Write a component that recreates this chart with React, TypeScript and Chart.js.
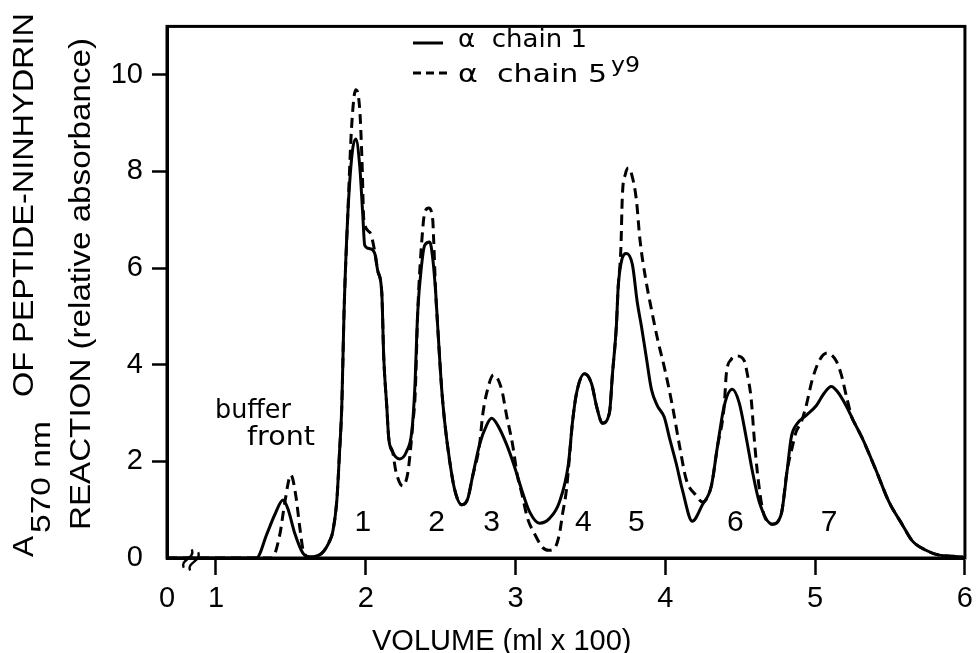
import React, { useEffect, useRef } from 'react';
import { Chart, registerables } from 'chart.js';

Chart.register(...registerables);

// ---- axis definitions ----
const X_ORIGIN = 0.673; // broken-axis origin, labelled "0"
const X_MAX = 6;
const Y_MAX = 11;
const xTickValues = [X_ORIGIN, 1, 2, 3, 4, 5, 6];
const xTickLabels = ['0', '1', '2', '3', '4', '5', '6'];
const yTickValues = [0, 2, 4, 6, 8, 10];

// ---- series: [volume (ml x 100), relative absorbance] ----
const chain1Points: [number, number][] = [
  [0.673, 0], [1.27, 0], [1.34, 0.5], [1.393, 0.9], [1.447, 1.2], [1.48, 1.02], [1.527, 0.5], [1.58, 0.1],
  [1.627, 0.02], [1.707, 0.1], [1.76, 0.36], [1.78, 0.55], [1.807, 1.2], [1.825, 2.2], [1.84, 3.15], [1.855, 5.1],
  [1.88, 7.1], [1.91, 8.4], [1.933, 8.67], [1.96, 8.1], [1.98, 7.1], [1.993, 6.47], [2.027, 6.4], [2.06, 6.3],
  [2.08, 5.94], [2.107, 5.48], [2.12, 4.15], [2.14, 3.15], [2.153, 2.49], [2.18, 2.19], [2.227, 2.05], [2.273, 2.21],
  [2.307, 2.61], [2.327, 3.49], [2.347, 5.1], [2.373, 6.07], [2.393, 6.47], [2.427, 6.54], [2.447, 6.2], [2.467, 5.48],
  [2.48, 4.8], [2.507, 3.49], [2.527, 2.81], [2.56, 2.01], [2.593, 1.42], [2.64, 1.1], [2.68, 1.22], [2.713, 1.69],
  [2.76, 2.35], [2.807, 2.75], [2.84, 2.89], [2.88, 2.75], [2.94, 2.35], [2.993, 1.89], [3.04, 1.42], [3.093, 0.96],
  [3.16, 0.72], [3.227, 0.82], [3.293, 1.16], [3.353, 1.95], [3.38, 2.81], [3.407, 3.41], [3.46, 3.81], [3.507, 3.61],
  [3.54, 3.15], [3.58, 2.79], [3.627, 3.01], [3.647, 3.81], [3.673, 4.8], [3.685, 5.6], [3.707, 6.14], [3.74, 6.3],
  [3.78, 6.07], [3.813, 5.28], [3.84, 4.8], [3.873, 4.15], [3.907, 3.49], [3.947, 3.15], [3.993, 2.91], [4.027, 2.49],
  [4.073, 1.95], [4.113, 1.42], [4.18, 0.76], [4.247, 1.1], [4.307, 1.49], [4.347, 2.29], [4.393, 3.15], [4.447, 3.49],
  [4.493, 3.21], [4.54, 2.49], [4.58, 1.81], [4.627, 1.16], [4.713, 0.7], [4.773, 0.9], [4.813, 1.81], [4.84, 2.49],
  [4.873, 2.75], [4.94, 2.95], [5.007, 3.15], [5.06, 3.41], [5.107, 3.55], [5.147, 3.45], [5.207, 3.15], [5.26, 2.81],
  [5.313, 2.49], [5.407, 1.81], [5.493, 1.16], [5.58, 0.7], [5.647, 0.36], [5.74, 0.16], [5.827, 0.06], [5.98, 0.02],
  [6.0, 0],
];

const chain5y9Points: [number, number][] = [
  [0.673, 0], [1.373, 0], [1.427, 0.5], [1.46, 1.16], [1.5, 1.72], [1.533, 1.29], [1.56, 0.62], [1.587, 0.1],
  [1.627, 0.02], [1.707, 0.1], [1.76, 0.36], [1.78, 0.55], [1.807, 1.2], [1.825, 2.2], [1.84, 3.15], [1.855, 5.1],
  [1.88, 7.1], [1.905, 8.9], [1.933, 9.69], [1.96, 9.27], [1.975, 8.2], [1.987, 7.0], [2.027, 6.74], [2.06, 6.34],
  [2.08, 5.94], [2.107, 5.48], [2.12, 4.15], [2.14, 3.15], [2.153, 2.49], [2.18, 2.19], [2.2, 1.81], [2.247, 1.49],
  [2.28, 1.75], [2.3, 2.29], [2.313, 2.75], [2.33, 3.4], [2.347, 5.1], [2.38, 6.8], [2.393, 7.14], [2.42, 7.24],
  [2.447, 7.0], [2.453, 6.6], [2.467, 5.48], [2.48, 4.8], [2.507, 3.49], [2.527, 2.81], [2.56, 2.01], [2.593, 1.42],
  [2.64, 1.1], [2.68, 1.22], [2.713, 1.69], [2.76, 2.35], [2.78, 2.95], [2.807, 3.41], [2.853, 3.79], [2.907, 3.49],
  [2.94, 2.95], [2.98, 2.35], [3.013, 1.69], [3.04, 1.36], [3.08, 0.82], [3.127, 0.5], [3.18, 0.22], [3.22, 0.16],
  [3.26, 0.2], [3.293, 0.5], [3.313, 0.9], [3.34, 1.42], [3.36, 2.1], [3.38, 2.81], [3.407, 3.41], [3.46, 3.81],
  [3.507, 3.61], [3.54, 3.15], [3.58, 2.79], [3.627, 3.01], [3.647, 3.81], [3.673, 4.8], [3.685, 5.6], [3.703, 6.4],
  [3.713, 7.5], [3.733, 7.94], [3.753, 8.07], [3.775, 7.94], [3.807, 7.4], [3.83, 6.6], [3.87, 5.75], [3.91, 5.1],
  [3.95, 4.5], [3.993, 3.95], [4.047, 3.15], [4.093, 2.35], [4.14, 1.62], [4.207, 1.29], [4.247, 1.16], [4.307, 1.49],
  [4.347, 2.29], [4.393, 3.15], [4.407, 3.81], [4.44, 4.11], [4.48, 4.18], [4.527, 4.08], [4.547, 3.81], [4.573, 3.29],
  [4.593, 2.49], [4.613, 1.81], [4.64, 1.16], [4.66, 0.88], [4.713, 0.7], [4.773, 0.9], [4.813, 1.81], [4.847, 2.29],
  [4.873, 2.61], [4.907, 2.81], [4.94, 3.15], [4.98, 3.68], [5.027, 4.08], [5.08, 4.24], [5.14, 4.08], [5.173, 3.81],
  [5.213, 3.29], [5.247, 2.89], [5.26, 2.81], [5.313, 2.49], [5.407, 1.81], [5.493, 1.16], [5.58, 0.7], [5.647, 0.36],
  [5.74, 0.16], [5.827, 0.06], [5.98, 0.02], [6.0, 0],
];

// ---- peak numbering annotations ----
const peakLabels = ['1', '2', '3', '4', '5', '6', '7'];
const peakLabelVolume = [1.98, 2.473, 2.84, 3.453, 3.807, 4.467, 5.093];
const PEAK_LABEL_Y = 0.56;

const TICK_FONT = "'Liberation Sans', Arial, sans-serif";
const TEXT_FONT = "'DejaVu Sans', 'Liberation Sans', sans-serif";

function fitText(ctx: CanvasRenderingContext2D, text: string, x: number, y: number, width: number, font: string) {
  ctx.save();
  ctx.font = font;
  const w = ctx.measureText(text).width;
  ctx.translate(x, y);
  ctx.scale(width / w, 1);
  ctx.textAlign = 'left';
  ctx.textBaseline = 'alphabetic';
  ctx.fillText(text, 0, 0);
  ctx.restore();
}

const decorPlugin = {
  id: 'decor',
  afterDraw(chart: any) {
    const { ctx, chartArea: a } = chart;
    const xs = chart.scales.x;
    const ys = chart.scales.y;
    ctx.save();
    ctx.strokeStyle = '#000';
    ctx.fillStyle = '#000';

    // frame box
    ctx.lineWidth = 3;
    ctx.strokeRect(a.left, a.top, a.right - a.left, a.bottom - a.top);

    // axis break marks
    ctx.save();
    ctx.translate(a.left + 24, a.bottom + 2);
    ctx.rotate(-1.15);
    ctx.lineWidth = 2.4;
    for (const off of [-3.5, 3.5]) {
      ctx.beginPath();
      ctx.moveTo(-10, off);
      ctx.bezierCurveTo(-4, off - 7, 3, off + 7, 10, off);
      ctx.stroke();
    }
    ctx.restore();

    // peak numbers
    ctx.font = `30px ${TICK_FONT}`;
    ctx.textAlign = 'center';
    ctx.textBaseline = 'alphabetic';
    peakLabels.forEach((t, i) => {
      ctx.fillText(t, xs.getPixelForValue(peakLabelVolume[i]), ys.getPixelForValue(PEAK_LABEL_Y));
    });

    // buffer front
    fitText(ctx, 'buffer', 215, 418, 76, `27px ${TEXT_FONT}`);
    fitText(ctx, 'front', 247, 445, 68, `27px ${TEXT_FONT}`);

    // legend
    ctx.lineWidth = 3;
    ctx.setLineDash([]);
    ctx.beginPath();
    ctx.moveTo(413, 43);
    ctx.lineTo(443, 43);
    ctx.stroke();
    ctx.setLineDash([8, 5]);
    ctx.beginPath();
    ctx.moveTo(413, 73);
    ctx.lineTo(447, 73);
    ctx.stroke();
    ctx.setLineDash([]);
    fitText(ctx, 'α  chain 1', 458, 47, 129, `25px ${TEXT_FONT}`);
    fitText(ctx, 'α  chain 5', 458, 82, 149, `25px ${TEXT_FONT}`);
    fitText(ctx, 'y9', 611, 72, 29, `21px ${TEXT_FONT}`);

    // x-axis title
    ctx.font = `29px ${TICK_FONT}`;
    ctx.textAlign = 'left';
    ctx.textBaseline = 'alphabetic';
    ctx.fillText('VOLUME (ml x 100)', 372, 650);

    // y-axis title (two rotated lines)
    ctx.save();
    ctx.translate(33, 557);
    ctx.rotate(-Math.PI / 2);
    fitText(ctx, 'A', 0, 0, 21, `30px ${TICK_FONT}`);
    fitText(ctx, '570 nm', 24, 17, 112, `28px ${TICK_FONT}`);
    fitText(ctx, 'OF PEPTIDE-NINHYDRIN', 160, 0, 384, `30px ${TICK_FONT}`);
    ctx.restore();

    ctx.save();
    ctx.translate(90, 530);
    ctx.rotate(-Math.PI / 2);
    fitText(ctx, 'REACTION (relative absorbance)', 0, 0, 492, `30px ${TICK_FONT}`);
    ctx.restore();

    ctx.restore();
  },
};

export default function App() {
  const canvasRef = useRef<HTMLCanvasElement>(null);

  useEffect(() => {
    const canvas = canvasRef.current;
    if (!canvas) return;
    const chart = new Chart(canvas, {
      type: 'line',
      data: {
        datasets: [
          {
            label: 'α chain 5y9',
            data: chain5y9Points.map(([x, y]) => ({ x, y })),
            borderColor: '#000',
            borderWidth: 3,
            borderDash: [10, 6],
            pointRadius: 0,
            fill: false,
            cubicInterpolationMode: 'monotone',
          },
          {
            label: 'α chain 1',
            data: chain1Points.map(([x, y]) => ({ x, y })),
            borderColor: '#000',
            borderWidth: 3,
            pointRadius: 0,
            fill: false,
            cubicInterpolationMode: 'monotone',
          },
        ],
      },
      options: {
        responsive: false,
        animation: false,
        devicePixelRatio: 1,
        layout: { padding: { top: 8, right: 14, left: 0, bottom: 0 } },
        plugins: { legend: { display: false }, tooltip: { enabled: false } },
        events: [],
        scales: {
          x: {
            type: 'linear',
            min: X_ORIGIN,
            max: X_MAX,
            afterBuildTicks: (s: any) => {
              s.ticks = xTickValues.map((v) => ({ value: v }));
            },
            afterFit: (s: any) => {
              s.height = 95;
            },
            border: { display: true, color: '#000', width: 3 },
            grid: {
              display: true,
              drawOnChartArea: false,
              drawTicks: true,
              tickLength: 17,
              tickWidth: 2.5,
              tickColor: (c: any) => (c.tick && c.tick.value === X_ORIGIN ? 'rgba(0,0,0,0)' : '#000'),
            },
            ticks: {
              autoSkip: false,
              maxRotation: 0,
              padding: 7,
              color: '#000',
              font: { family: TICK_FONT, size: 29 },
              callback: (_v: any, i: number) => xTickLabels[i],
            },
          },
          y: {
            type: 'linear',
            min: 0,
            max: Y_MAX,
            afterBuildTicks: (s: any) => {
              s.ticks = yTickValues.map((v) => ({ value: v }));
            },
            afterFit: (s: any) => {
              s.width = 167;
            },
            border: { display: true, color: '#000', width: 3 },
            grid: {
              display: true,
              drawOnChartArea: false,
              drawTicks: true,
              tickLength: 15,
              tickWidth: 2.5,
              tickColor: (c: any) => (c.tick && c.tick.value === 0 ? 'rgba(0,0,0,0)' : '#000'),
            },
            ticks: {
              padding: 9,
              color: '#000',
              font: { family: TICK_FONT, size: 29 },
              callback: (v: any) => String(v),
            },
          },
        },
      },
      plugins: [decorPlugin],
    } as any);
    return () => chart.destroy();
  }, []);

  return (
    <div style={{ position: 'absolute', left: 0, top: 0, width: 980, height: 653, background: '#fff' }}>
      <canvas ref={canvasRef} width={980} height={653} style={{ display: 'block', width: 980, height: 653 }} />
    </div>
  );
}
